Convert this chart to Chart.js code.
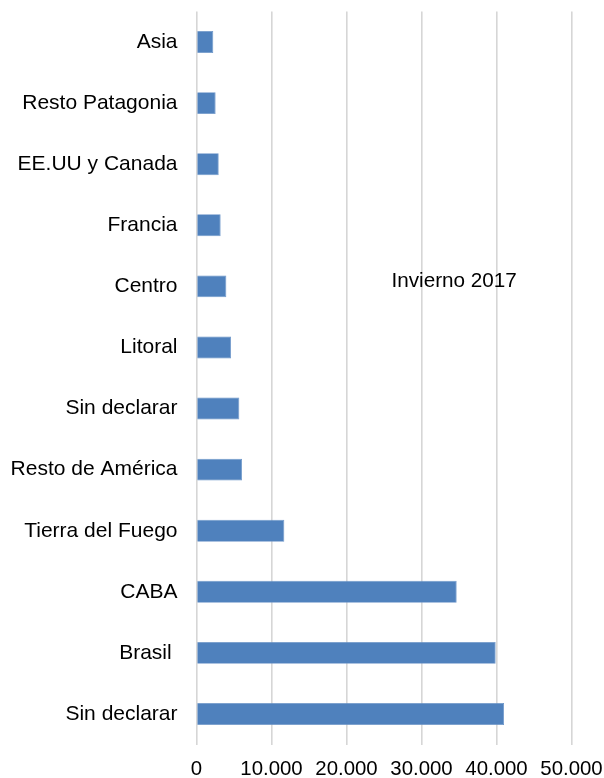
<!DOCTYPE html>
<html>
<head>
<meta charset="utf-8">
<script src="https://cdn.jsdelivr.net/npm/chart.js@4.4.1/dist/chart.umd.min.js"></script>
<style>
  html, body { margin: 0; padding: 0; background: #ffffff; }
  #wrap { width: 604px; height: 778px; position: relative; }
</style>
</head>
<body>
<div id="wrap"><canvas id="c" width="604" height="778"></canvas></div>
<script>
const categories = ["Asia", "Resto Patagonia", "EE.UU y Canada", "Francia", "Centro", "Litoral", "Sin declarar", "Resto de América", "Tierra del Fuego", "CABA", "Brasil ", "Sin declarar"];
const seriesName = "Invierno 2017";
const values = [2240, 2550, 2960, 3220, 3980, 4600, 5710, 6070, 11710, 34690, 39890, 41000];
const tickValues = [0, 10000, 20000, 30000, 40000, 50000];

const FAMILY = "'Liberation Sans', Arial, sans-serif";
const FONT_Y = { family: FAMILY, size: 21 };
const FONT_X = { family: FAMILY, size: 20.4 };

const seriesLabelPlugin = {
  id: 'seriesLabel',
  afterDraw(chart) {
    const { ctx, chartArea } = chart;
    const label = chart.data.datasets[0].label;
    ctx.save();
    ctx.font = "20.7px " + FAMILY;
    ctx.fillStyle = '#000000';
    ctx.textAlign = 'center';
    ctx.textBaseline = 'middle';
    const x = chartArea.left + (chartArea.right - chartArea.left) * 0.687;
    const y = chartArea.top + (chartArea.bottom - chartArea.top) * 0.368;
    ctx.fillText(label, x, y);
    ctx.restore();
  }
};

function zeroPad(scale) {
  scale.paddingTop = 0; scale.paddingBottom = 0;
  scale.paddingLeft = 0; scale.paddingRight = 0;
}

new Chart(document.getElementById('c'), {
  type: 'bar',
  data: {
    labels: categories,
    datasets: [{
      label: seriesName,
      data: values,
      backgroundColor: '#4f81bd',
      borderColor: '#6a94c8',
      borderWidth: 0.8,
      barPercentage: 0.36,
      categoryPercentage: 1.0
    }]
  },
  options: {
    indexAxis: 'y',
    responsive: false,
    animation: false,
    devicePixelRatio: 1,
    layout: { padding: { left: 0, right: 32.5, top: 11.5, bottom: 0 } },
    plugins: {
      legend: { display: false },
      tooltip: { enabled: false },
      title: { display: false }
    },
    scales: {
      x: {
        min: 0,
        max: 50000,
        afterBuildTicks(scale) { scale.ticks = tickValues.map(v => ({ value: v })); },
        afterFit(scale) { scale.height = 33.5; zeroPad(scale); },
        grid: { color: '#d6d6d6', lineWidth: 1.6, drawTicks: false },
        border: { display: false },
        ticks: {
          color: '#000000',
          font: FONT_X,
          padding: 13,
          maxRotation: 0,
          autoSkip: false,
          callback: (v) => v === 0 ? '0' : v.toLocaleString('de-DE')
        }
      },
      y: {
        afterFit(scale) { scale.width = 196.5; zeroPad(scale); },
        grid: { display: false, drawTicks: false },
        border: { display: false },
        ticks: {
          color: '#000000',
          font: FONT_Y,
          padding: 19,
          autoSkip: false
        }
      }
    }
  },
  plugins: [seriesLabelPlugin]
});
</script>
</body>
</html>
